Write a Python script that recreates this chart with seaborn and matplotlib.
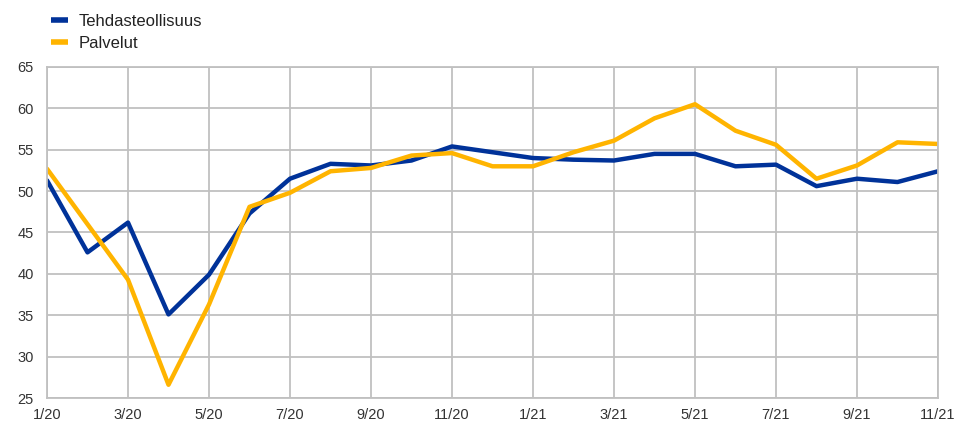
import matplotlib
matplotlib.use("Agg")
import matplotlib.pyplot as plt
import seaborn as sns
import pandas as pd
import numpy as np

# Monthly PMI readings, January 2020 - November 2021
months = ["1/20", "2/20", "3/20", "4/20", "5/20", "6/20", "7/20", "8/20", "9/20", "10/20",
          "11/20", "12/20", "1/21", "2/21", "3/21", "4/21", "5/21", "6/21", "7/21", "8/21",
          "9/21", "10/21", "11/21"]
tehdasteollisuus = [51.3, 42.6, 46.2, 35.1, 39.9, 47.3, 51.5, 53.3, 53.1, 53.7,
                    55.4, 54.7, 54.0, 53.8, 53.7, 54.5, 54.5, 53.0, 53.2, 50.6,
                    51.5, 51.1, 52.4]
palvelut = [52.7, 46.0, 39.3, 26.6, 36.3, 48.1, 49.8, 52.4, 52.8, 54.3,
            54.6, 53.0, 53.0, 54.7, 56.1, 58.8, 60.5, 57.3, 55.6, 51.5,
            53.1, 55.9, 55.7]
series_names = ["Tehdasteollisuus", "Palvelut"]
colors = ["#003299", "#FFB400"]
y_ticks = [25, 30, 35, 40, 45, 50, 55, 60, 65]

sns.set_theme(style="white")
plt.rcParams["font.family"] = ["Liberation Sans", "DejaVu Sans"]

x = np.arange(len(months))
df = pd.DataFrame({
    "x": np.concatenate([x, x]),
    "value": tehdasteollisuus + palvelut,
    "series": [series_names[0]] * len(x) + [series_names[1]] * len(x),
})

fig = plt.figure(figsize=(9.66, 4.23), dpi=100)
ax = fig.add_axes([47 / 966, 1 - 398 / 423, (938 - 47) / 966, (398 - 67) / 423])

sns.lineplot(data=df, x="x", y="value", hue="series", hue_order=series_names,
             palette=colors, linewidth=3.2, ax=ax, legend=False)

ax.set_xlim(0, len(months) - 1)
ax.set_ylim(25, 65)
ax.set_yticks(y_ticks)
ax.set_yticklabels([str(v) for v in y_ticks])
ax.set_xticks(x[::2])
ax.set_xticklabels(months[::2])
ax.set_xlabel("")
ax.set_ylabel("")

grid_color = "#c0c0c0"
ax.grid(True, color=grid_color, linewidth=1.3)
ax.set_axisbelow(True)
for s in ax.spines.values():
    s.set_color(grid_color)
    s.set_linewidth(1.3)
ax.tick_params(axis="both", length=0, labelsize=10.5, colors="#333333")
ax.tick_params(axis="y", pad=9.5)
ax.tick_params(axis="x", pad=7)

handles = [plt.Line2D([0], [0], color=c, linewidth=4, solid_capstyle="butt") for c in colors]
fig.legend(handles, series_names, loc="upper left", bbox_to_anchor=(0.041, 0.995),
           frameon=False, fontsize=12, handlelength=1.0, handletextpad=0.62,
           labelspacing=0.42, borderaxespad=0.3, labelcolor="#222222")

fig.savefig("out.png", dpi=100)
